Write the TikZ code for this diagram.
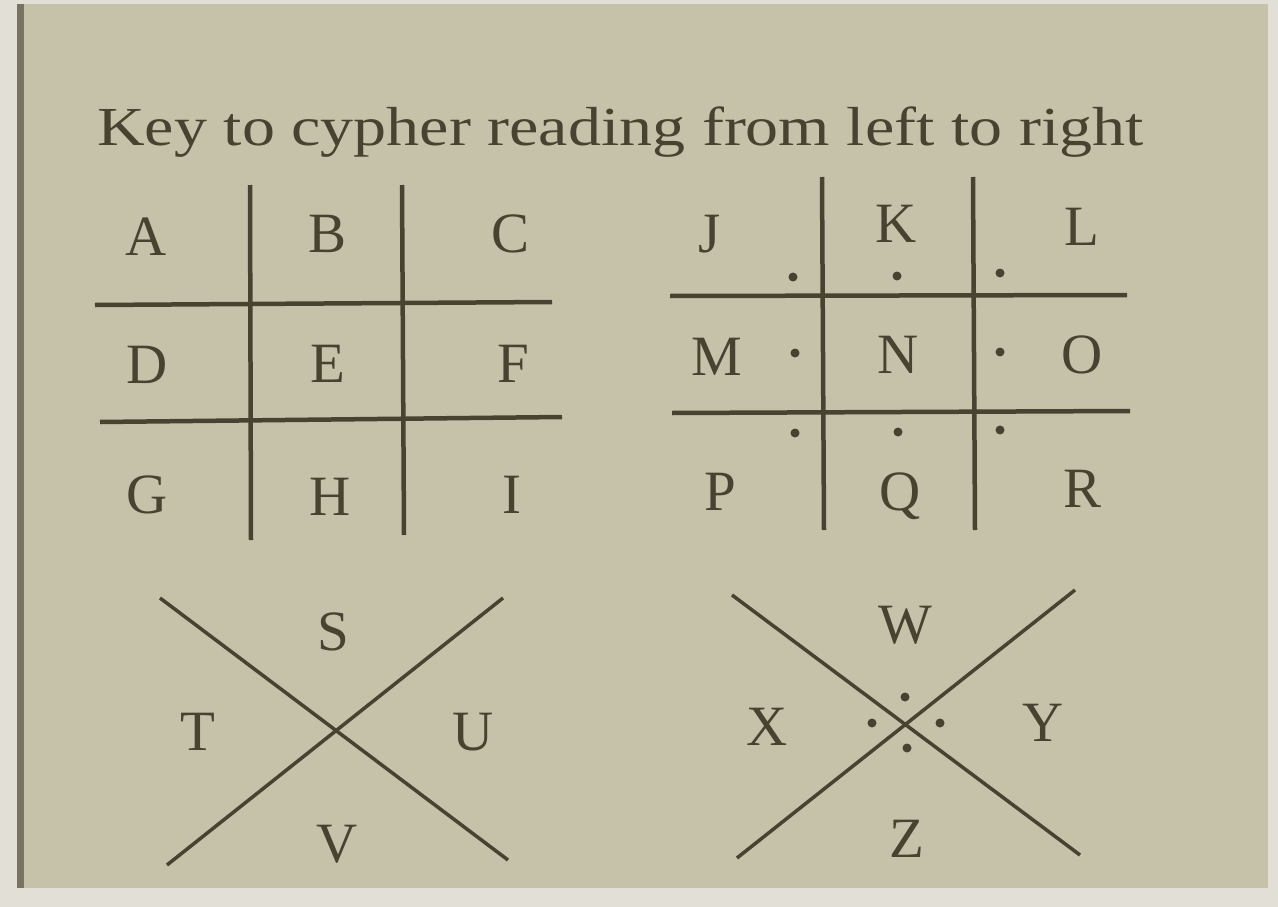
\documentclass[tikz,border=0pt]{standalone}
\usepackage{fontspec}
\usepackage{graphicx}
\setmainfont{Liberation Serif}
\definecolor{paper}{RGB}{198,194,170}
\definecolor{edge}{RGB}{226,224,214}
\definecolor{ink}{RGB}{72,66,48}
\definecolor{rim}{RGB}{120,114,98}
\tikzset{
  letter/.style={font=\fontsize{57}{60}\selectfont, text=ink, inner sep=0pt, anchor=base},
  gridline/.style={draw=ink, line width=4.5pt},
  xline/.style={draw=ink, line width=3.5pt},
  pip/.style={fill=ink, draw=none},
}
\begin{document}
\begin{tikzpicture}[x=1pt,y=-1pt]
\useasboundingbox (0,0) rectangle (1278,907);
\fill[edge] (0,0) rectangle (1278,907);
\fill[paper] (20,4) rectangle (1268,888);
\fill[rim] (17,4) rectangle (24,888);
% title
\node[font=\fontsize{55}{60}\selectfont, text=ink, inner sep=0pt, anchor=base west] (title) at (97,145) {\scalebox{1.2}[1]{Key to cypher reading from left to right}};
% grid 1
\draw[gridline] (250,185) -- (251,540);
\draw[gridline] (402,185) -- (404,535);
\draw[gridline] (95,305) -- (552,302);
\draw[gridline] (100,422) -- (562,417);
\node[letter] (A) at (146,255) {A};
\node[letter] (B) at (328,252) {B};
\node[letter] (C) at (511,252) {C};
\node[letter] (D) at (147,383) {D};
\node[letter] (E) at (328,382) {E};
\node[letter] (F) at (513,382) {F};
\node[letter] (G) at (147,513) {G};
\node[letter] (H) at (330,515) {H};
\node[letter] (I) at (512,513) {I};
% grid 2
\draw[gridline] (822,177) -- (824,530);
\draw[gridline] (973,177) -- (975,530);
\draw[gridline] (670,296) -- (1127,295);
\draw[gridline] (672,413) -- (1130,411);
\node[letter] (J) at (710,252) {J};
\node[letter] (K) at (896,242) {K};
\node[letter] (L) at (1082,245) {L};
\node[letter] (M) at (717,375) {M};
\node[letter] (N) at (898,373) {N};
\node[letter] (O) at (1082,373) {O};
\node[letter] (P) at (720,510) {P};
\node[letter] (Q) at (900,510) {Q};
\node[letter] (R) at (1082,507) {R};
\foreach \p in {(793,277),(897,276),(1000,273),(795,353),(1000,352),(795,433),(898,432),(1000,430)}
  \fill[pip] \p circle (4.5);
% X 1
\draw[xline] (160,598) -- (508,860);
\draw[xline] (503,598) -- (167,865);
\node[letter] (S) at (333,650) {S};
\node[letter] (T) at (198,750) {T};
\node[letter] (U) at (473,750) {U};
\node[letter] (V) at (337,862) {V};
% X 2
\draw[xline] (732,595) -- (1080,855);
\draw[xline] (1075,590) -- (737,858);
\node[letter] (W) at (905,643) {W};
\node[letter] (X) at (767,745) {X};
\node[letter] (Y) at (1043,741) {Y};
\node[letter] (Z) at (907,857) {Z};
\foreach \p in {(905,697),(872,723),(940,723),(907,748)}
  \fill[pip] \p circle (4.5);
\end{tikzpicture}
\end{document}
